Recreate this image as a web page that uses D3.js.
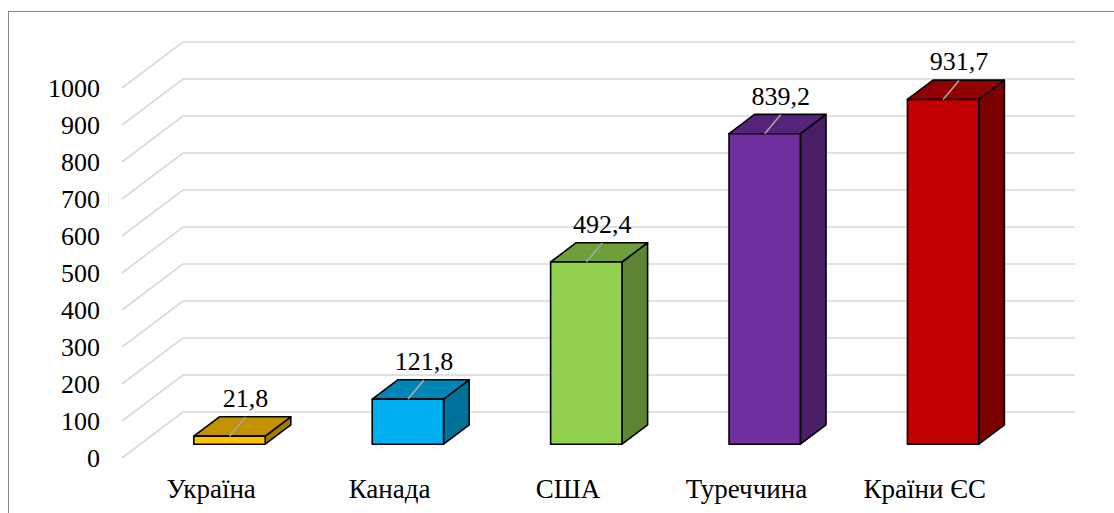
<!DOCTYPE html>
<html>
<head>
<meta charset="utf-8">
<script src="https://cdn.jsdelivr.net/npm/d3@7"></script>
<style>
  html, body { margin: 0; padding: 0; background: #fff; }
  svg { display: block; }
</style>
</head>
<body>
<svg id="chart" width="1114" height="513"></svg>
<script>
// Chart data
const categories = ["Україна", "Канада", "США", "Туреччина", "Країни ЄС"];
const values = [21.8, 121.8, 492.4, 839.2, 931.7];
const valueLabels = ["21,8", "121,8", "492,4", "839,2", "931,7"];
const tickValues = [0, 100, 200, 300, 400, 500, 600, 700, 800, 900, 1000];
const frontColors = ["#FFC000", "#00B0F0", "#92D050", "#7030A0", "#C00000"];

const FONT = "'Liberation Serif', 'Tinos', 'Times New Roman', monospace";

const svg = d3.select("#chart");
const W = 1114, H = 513;

// Outer chart frame
svg.append("rect")
  .attr("x", 8.5).attr("y", 11.5)
  .attr("width", W + 10).attr("height", H + 10)
  .attr("fill", "#fff")
  .attr("stroke", "#868686").attr("stroke-width", 1);

// Front plane of the 3-D box
const plotLeft = 122, plotRight = 1014;
const depthDX = 61, depthDY = -46;     // full-depth offset of the back wall
const barD0 = 0.3, barD1 = 0.72;       // bar depth span as a fraction of the box depth

const y = d3.scaleLinear().domain([0, 1000]).range([458, 88]);
const x = d3.scaleBand().domain(categories)
  .range([plotLeft, plotRight])
  .paddingInner(0.6).paddingOuter(0.3);

// project (x at front plane, value, depth fraction) to screen
const P = (px, v, d) => [px + depthDX * d, y(v) + depthDY * d];

// Gridlines: side-wall diagonal then back-wall horizontal
const grid = svg.append("g");
tickValues.forEach(t => {
  const a = P(plotLeft, t, 0), b = P(plotLeft, t, 1), c = P(plotRight, t, 1);
  grid.append("path")
    .attr("d", d3.line()([a, b, c]))
    .attr("fill", "none")
    .attr("stroke", "#D9D9D9")
    .attr("stroke-width", 1.6);
});

// Value axis labels
svg.append("g").selectAll("text")
  .data(tickValues).join("text")
  .style("font-family", FONT)
  .style("font-size", "26px")
  .attr("x", plotLeft - 22)
  .attr("y", d => y(d))
  .attr("dy", "0.34em")
  .attr("text-anchor", "end")
  .text(d => d);

// Category labels
svg.append("g").selectAll("text")
  .data(categories).join("text")
  .style("font-family", FONT)
  .style("font-size", "27px")
  .attr("x", d => x(d) + x.bandwidth() / 2)
  .attr("y", 498)
  .attr("text-anchor", "middle")
  .text(d => d);

// Colour shading for the 3-D faces
const shade = (col, k) => {
  const c = d3.rgb(col);
  return d3.rgb(c.r * k, c.g * k, c.b * k).formatHex();
};

const bars = svg.append("g");
categories.forEach((cat, i) => {
  const v = values[i];
  const x0 = x(cat), x1 = x(cat) + x.bandwidth();
  const col = frontColors[i];
  const line = d3.line();
  const g = bars.append("g")
    .attr("stroke", "#000").attr("stroke-width", 1.6)
    .attr("stroke-linejoin", "round");

  // right side face
  g.append("path")
    .attr("d", line([P(x1, 0, barD0), P(x1, 0, barD1), P(x1, v, barD1), P(x1, v, barD0)]) + "Z")
    .attr("fill", shade(col, 0.64));
  // top face
  g.append("path")
    .attr("d", line([P(x0, v, barD0), P(x1, v, barD0), P(x1, v, barD1), P(x0, v, barD1)]) + "Z")
    .attr("fill", shade(col, 0.76));
  // front face
  g.append("path")
    .attr("d", line([P(x0, 0, barD0), P(x1, 0, barD0), P(x1, v, barD0), P(x0, v, barD0)]) + "Z")
    .attr("fill", col);

  // data label with leader line from the top face
  const topMid = P((x0 + x1) / 2, v, barD0);
  const anchor = [topMid[0] + 16, topMid[1] - 19];
  svg.append("line")
    .attr("x1", topMid[0]).attr("y1", topMid[1])
    .attr("x2", anchor[0]).attr("y2", anchor[1])
    .attr("stroke", "#A6A6A6").attr("stroke-width", 1.6);
  svg.append("text")
    .style("font-family", FONT)
    .style("font-size", "26px")
    .attr("x", anchor[0])
    .attr("y", anchor[1] - 10)
    .attr("text-anchor", "middle")
    .text(valueLabels[i]);
});
</script>
</body>
</html>
